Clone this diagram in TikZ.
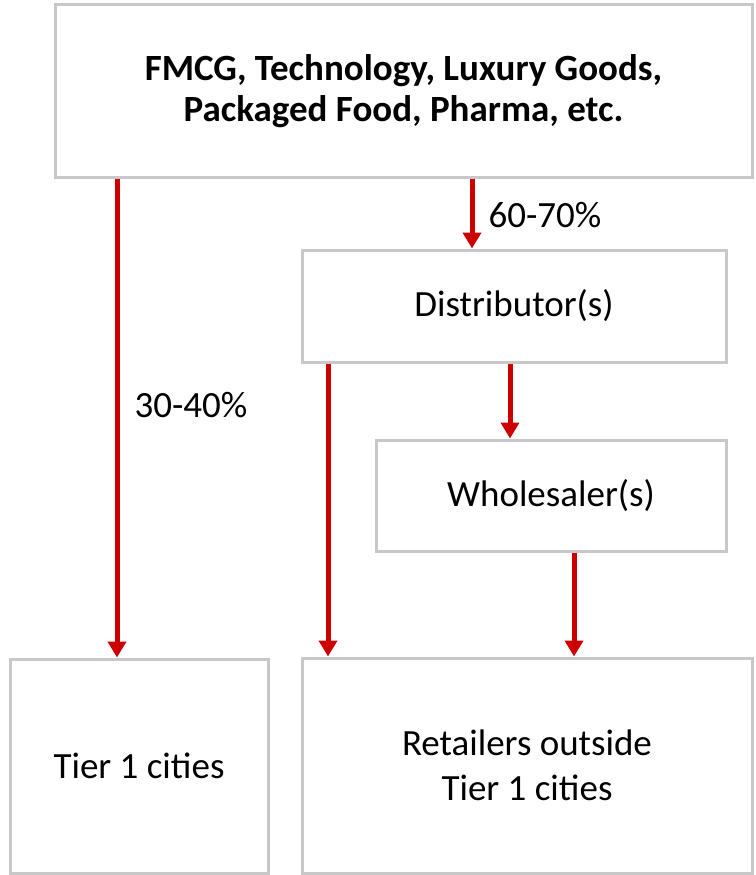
\documentclass[tikz,border=0pt]{standalone}
\usepackage{fontspec}
\setmainfont{Carlito}
\usetikzlibrary{arrows.meta}
\definecolor{boxgray}{RGB}{200,200,200}
\definecolor{arrred}{RGB}{204,0,0}
\begin{document}
\begin{tikzpicture}[x=1pt,y=-1pt,
  box/.style={draw=boxgray,line width=3pt,inner sep=0pt,align=center,font=\fontsize{37}{45}\selectfont},
  arr/.style={draw=arrred,line width=5pt,-{Triangle[width=18pt,length=16pt]}},
  lbl/.style={font=\fontsize{37}{45}\selectfont,inner sep=0pt}]
\useasboundingbox (0,0) rectangle (755,875);
\node[box,minimum width=697pt,minimum height=172pt,font=\fontsize{37}{41}\selectfont\bfseries] (top) at (403.5,91) {FMCG, Technology, Luxury Goods,\\Packaged Food, Pharma, etc.};
\node[box,minimum width=424pt,minimum height=112pt] (dist) at (514,306) {Distributor(s)};
\node[box,minimum width=350pt,minimum height=111pt] (whole) at (551,495.5) {Wholesaler(s)};
\node[box,minimum width=258pt,minimum height=214pt] (tier) at (139,766) {Tier 1 cities};
\node[box,minimum width=450pt,minimum height=215pt] (ret) at (527,765.5) {Retailers outside\\Tier 1 cities};
\coordinate (xa) at (117,0);
\coordinate (xb) at (472,0);
\coordinate (xc) at (328,0);
\coordinate (xd) at (510,0);
\coordinate (xe) at (574,0);
\draw[arr] (xa |- top.south) -- (xa |- tier.north);
\draw[arr] (xb |- top.south) -- (xb |- dist.north);
\draw[arr] (xc |- dist.south) -- (xc |- ret.north);
\draw[arr] (xd |- dist.south) -- (xd |- whole.north);
\draw[arr] (xe |- whole.south) -- (xe |- ret.north);
\node[lbl] (l1) at (191,405) {30-40\%};
\node[lbl] (l2) at (545,215) {60-70\%};
\end{tikzpicture}
\end{document}
